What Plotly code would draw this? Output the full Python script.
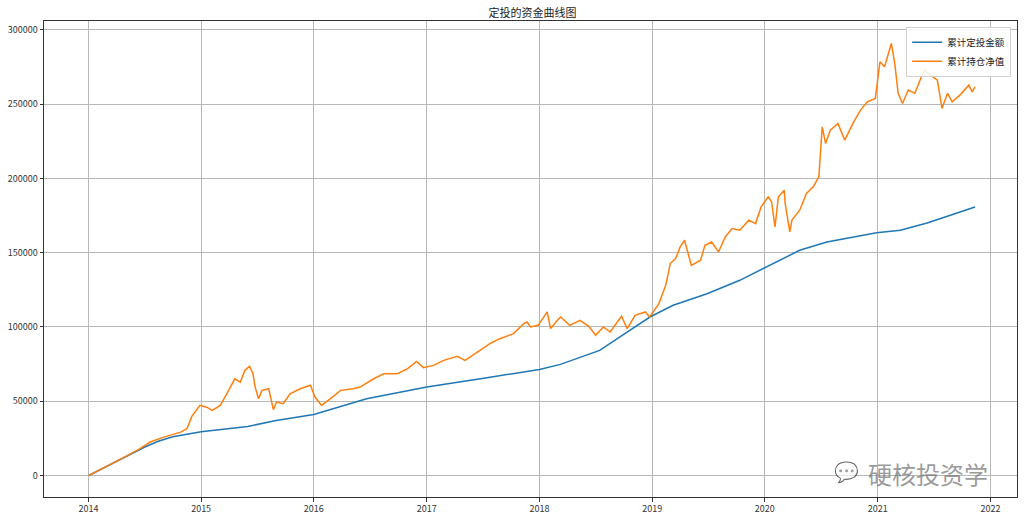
import plotly.graph_objects as go

# 累计定投金额 (blue)
invest_dates = ["2014-01-02", "2014-03-01", "2014-05-01", "2014-07-01", "2014-08-15", "2014-10-01",
                "2015-01-01", "2015-06-01", "2015-09-01", "2016-01-01", "2016-06-20", "2017-01-01",
                "2017-07-15", "2018-01-01", "2018-03-10", "2018-07-15", "2018-10-01", "2018-12-25",
                "2019-03-10", "2019-06-28", "2019-10-12", "2020-02-20", "2020-04-23", "2020-07-20",
                "2020-12-28", "2021-03-15", "2021-06-10", "2021-11-12"]
invest_values = [0, 6000, 12500, 19000, 23000, 26000,
                 29500, 33000, 37000, 41000, 51700, 59500,
                 65800, 71400, 74800, 84200, 95000, 106700,
                 114600, 122400, 131400, 145000, 151600, 157200,
                 163500, 165100, 170000, 180800]

# 累计持仓净值 (orange)
nav_dates = ["2014-01-02", "2014-02-25", "2014-04-20", "2014-06-13", "2014-07-20", "2014-09-02",
             "2014-10-27", "2014-11-16", "2014-12-02", "2014-12-28", "2015-01-19", "2015-02-06",
             "2015-03-04", "2015-03-25", "2015-04-20", "2015-05-08", "2015-05-23", "2015-06-07",
             "2015-06-18", "2015-06-25", "2015-07-06", "2015-07-17", "2015-08-08", "2015-08-23",
             "2015-09-02", "2015-09-24", "2015-10-16", "2015-11-18", "2015-12-21", "2016-01-05",
             "2016-01-26", "2016-02-24", "2016-03-28", "2016-05-08", "2016-05-30", "2016-07-13",
             "2016-08-15", "2016-09-28", "2016-10-31", "2016-11-29", "2016-12-21", "2017-01-23",
             "2017-02-25", "2017-04-10", "2017-05-05", "2017-06-14", "2017-07-28", "2017-08-26",
             "2017-10-09", "2017-11-11", "2017-11-22", "2017-12-03", "2017-12-28", "2018-01-26",
             "2018-02-06", "2018-02-28", "2018-03-11", "2018-04-09", "2018-05-12", "2018-06-10",
             "2018-07-02", "2018-07-27", "2018-08-18", "2018-09-24", "2018-10-12", "2018-11-07",
             "2018-12-10", "2018-12-24", "2019-01-23", "2019-02-14", "2019-03-01", "2019-03-18",
             "2019-04-02", "2019-04-16", "2019-04-27", "2019-05-08", "2019-06-07", "2019-06-21",
             "2019-07-13", "2019-08-04", "2019-08-26", "2019-09-17", "2019-10-12", "2019-11-10",
             "2019-12-02", "2019-12-20", "2020-01-12", "2020-01-23", "2020-02-03", "2020-02-14",
             "2020-03-04", "2020-03-07", "2020-03-22", "2020-03-29", "2020-04-23", "2020-05-15",
             "2020-06-06", "2020-06-24", "2020-07-05", "2020-07-16", "2020-07-31", "2020-08-25",
             "2020-09-16", "2020-10-15", "2020-11-06", "2020-11-28", "2020-12-24", "2021-01-08",
             "2021-01-23", "2021-02-14", "2021-02-25", "2021-03-08", "2021-03-22", "2021-04-10",
             "2021-05-01", "2021-05-31", "2021-06-21", "2021-07-13", "2021-07-28", "2021-08-15",
             "2021-08-30", "2021-09-24", "2021-10-23", "2021-11-03", "2021-11-12"]
nav_values = [0, 5500, 11500, 17500, 22500, 25800,
              29200, 31500, 39800, 47200, 46000, 43800,
              47200, 55000, 65100, 62900, 70800, 73500,
              68500, 59500, 51700, 57300, 58400, 44300,
              49400, 48300, 55000, 58400, 60700, 52800,
              47200, 51700, 57300, 58400, 59500, 65100,
              68500, 68500, 71900, 76800, 72600, 74100,
              77500, 80200, 77500, 83100, 89200, 92100,
              95500, 102200, 103300, 100000, 101100, 110100,
              98900, 104500, 106700, 101100, 104500, 100400,
              94400, 100000, 96600, 107200, 98900, 107800,
              110100, 106700, 115700, 128000, 142700, 146000,
              153900, 158400, 150500, 141500, 144900, 155000,
              157200, 150500, 160600, 166200, 165100, 171900,
              169600, 180800, 187600, 184200, 167300, 187600,
              192100, 183100, 164000, 171900, 178600, 189900,
              194300, 201000, 234700, 223500, 232500, 237000,
              225800, 238100, 246000, 251600, 253900, 278500,
              275200, 290900, 277500, 257300, 250500, 259500,
              257300, 272900, 269600, 266200, 247100, 257300,
              251600, 256100, 262800, 258300, 261700]

y_ticks = [0, 50000, 100000, 150000, 200000, 250000, 300000]

font_family = "Noto Sans CJK SC, DejaVu Sans, sans-serif"

fig = go.Figure()
fig.add_trace(go.Scatter(x=invest_dates, y=invest_values, mode="lines", name="累计定投金额",
                         line=dict(color="#1f77b4", width=1.5)))
fig.add_trace(go.Scatter(x=nav_dates, y=nav_values, mode="lines", name="累计持仓净值",
                         line=dict(color="#ff7f0e", width=1.5)))

fig.add_annotation(text="硬核投资学", xref="paper", yref="paper", x=0.972, y=0.05,
                   xanchor="right", yanchor="middle", showarrow=False,
                   font=dict(family=font_family, size=24, color="rgba(110,110,110,0.7)"))
fig.add_annotation(text="💬", xref="paper", yref="paper", x=0.84, y=0.055,
                   xanchor="right", yanchor="middle", showarrow=False,
                   font=dict(size=20, color="rgba(150,150,150,0.6)"))

fig.update_layout(
    width=1024, height=515,
    margin=dict(l=44, r=7, t=21, b=18),
    paper_bgcolor="white", plot_bgcolor="white",
    font=dict(family=font_family, size=9, color="#333333"),
    title=dict(text="定投的资金曲线图", x=0.52, xanchor="center", y=0.982, yanchor="top",
               font=dict(size=11, color="#222222")),
    legend=dict(x=0.994, y=0.988, xanchor="right", yanchor="top",
                bgcolor="rgba(255,255,255,0.85)", bordercolor="#d0d0d0", borderwidth=1,
                font=dict(size=9.5, color="#222222"), tracegroupgap=0, itemwidth=30),
    showlegend=True,
)
fig.update_xaxes(type="date", range=["2013-08-10", "2022-03-28"], tick0="2014-01-01", dtick="M12",
                 tickformat="%Y", showgrid=True, gridcolor="#b8b8b8", gridwidth=0.8,
                 showline=True, linecolor="#333333", linewidth=1, mirror=True, automargin=False,
                 ticks="outside", ticklen=3.5, tickcolor="#333333", zeroline=False,
                 tickfont=dict(size=9))
fig.update_yaxes(range=[-14500, 306000], tickvals=y_ticks, ticktext=[str(v) for v in y_ticks],
                 showgrid=True, gridcolor="#b8b8b8", gridwidth=0.8, automargin=False,
                 showline=True, linecolor="#333333", linewidth=1, mirror=True,
                 ticks="outside", ticklen=3.5, tickcolor="#333333", zeroline=False,
                 tickfont=dict(size=9))

fig.write_html("out.html", config={"displayModeBar": False},
               post_script="document.body.style.margin='0';document.body.style.overflow='hidden';")
